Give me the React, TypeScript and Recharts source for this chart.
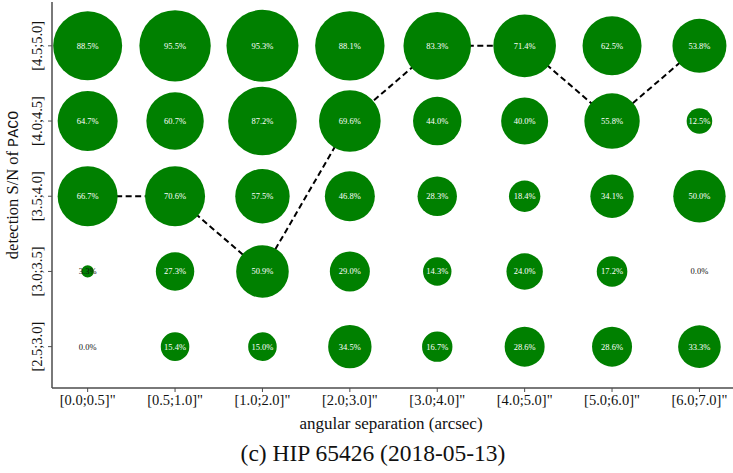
import React from 'react';
import { ScatterChart, Scatter, XAxis, YAxis, ZAxis, LabelList, Label } from 'recharts';

const xCategories = ['[0.0;0.5]"', '[0.5;1.0]"', '[1.0;2.0]"', '[2.0;3.0]"', '[3.0;4.0]"', '[4.0;5.0]"', '[5.0;6.0]"', '[6.0;7.0]"'];
const yCategories = ['[2.5;3.0]', '[3.0;3.5]', '[3.5;4.0]', '[4.0;4.5]', '[4.5;5.0]'];

// detection rate (%) per S/N row
const rate25 = [0.0, 15.4, 15.0, 34.5, 16.7, 28.6, 28.6, 33.3];
const rate30 = [3.3, 27.3, 50.9, 29.0, 14.3, 24.0, 17.2, 0.0];
const rate35 = [66.7, 70.6, 57.5, 46.8, 28.3, 18.4, 34.1, 50.0];
const rate40 = [64.7, 60.7, 87.2, 69.6, 44.0, 40.0, 55.8, 12.5];
const rate45 = [88.5, 95.5, 95.3, 88.1, 83.3, 71.4, 62.5, 53.8];

// bubble weight (area) per S/N row
const weight25 = [0, 204, 204, 471, 231, 400, 400, 454];
const weight30 = [38, 369, 692, 400, 202, 331, 234, 0];
const weight35 = [900, 900, 740, 625, 388, 246, 471, 686];
const weight40 = [900, 824, 1176, 949, 586, 552, 767, 164];
const weight45 = [1190, 1274, 1296, 1204, 1142, 980, 870, 729];

// best S/N row index per separation bin
const bestRow = [2, 2, 1, 3, 4, 4, 3, 4];

const rates = [rate25, rate30, rate35, rate40, rate45];
const weights = [weight25, weight30, weight35, weight40, weight45];

const bubbles = rates.flatMap((row, i) =>
  row.map((r, j) => ({ x: j, y: i, z: weights[i][j], rate: r }))
);
const path = bestRow.map((row, j) => ({ x: j, y: row }));

const FONT = '"Liberation Serif", "Times New Roman", serif';
const AXIS = '#4d4d4d';

const XTick = (props: any) => {
  const { x, y, payload } = props;
  return (
    <text x={x} y={y + 11} textAnchor="middle" fontFamily={FONT} fontSize={14.5} fill="#111">
      {xCategories[payload.value]}
    </text>
  );
};

const YTick = (props: any) => {
  const { y, payload } = props;
  return (
    <text
      x={0}
      y={0}
      transform={`translate(42, ${y}) rotate(-90)`}
      textAnchor="middle"
      fontFamily={FONT}
      fontSize={14.5}
      fill="#111"
    >
      {yCategories[payload.value]}
    </text>
  );
};

const BubbleLabel = (props: any) => {
  const { x, y, width, height, value } = props;
  const cx = x + width / 2;
  const cy = y + height / 2;
  return (
    <text
      x={cx}
      y={cy}
      dy={3}
      textAnchor="middle"
      fontFamily={FONT}
      fontSize={8.5}
      fill={width > 20 ? '#ffffff' : '#111111'}
    >
      {`${Number(value).toFixed(1)}%`}
    </text>
  );
};

const Titles = () => (
  <g>
    <text x={391} y={429} textAnchor="middle" fontFamily={FONT} fontSize={17} fill="#111">
      angular separation (arcsec)
    </text>
    <text x={373} y={461} textAnchor="middle" fontFamily={FONT} fontSize={23.5} fill="#111">
      (c) HIP 65426 (2018-05-13)
    </text>
  </g>
);

const YTitle = () => (
  <text
    x={0}
    y={0}
    transform="translate(18, 185) rotate(-90)"
    textAnchor="middle"
    fontFamily={FONT}
    fontSize={16.5}
    fill="#111"
  >
    detection S/N of <tspan fontFamily='"Liberation Mono", "DejaVu Sans Mono", monospace' fontSize={15}>PACO</tspan>
  </text>
);

export default function App() {
  return (
    <div style={{ position: 'absolute', left: 0, top: 0 }}>
      <ScatterChart width={733} height={473} margin={{ top: 2, right: 0, left: 0, bottom: 0 }}>
        <XAxis
          xAxisId="top"
          orientation="top"
          type="number"
          dataKey="x"
          domain={[-0.408, 7.384]}
          height={0}
          tick={false}
          tickLine={false}
          axisLine={{ stroke: '#777', strokeWidth: 1.5 }}
          allowDataOverflow
        />
        <XAxis
          type="number"
          dataKey="x"
          domain={[-0.408, 7.384]}
          ticks={[0, 1, 2, 3, 4, 5, 6, 7]}
          interval={0}
          height={85}
          tick={<XTick />}
          tickLine={{ stroke: AXIS, strokeWidth: 1 }}
          tickSize={4}
          axisLine={{ stroke: AXIS, strokeWidth: 1.5 }}
          allowDataOverflow
        >
          <Label content={<Titles />} />
        </XAxis>
        <YAxis
          type="number"
          dataKey="y"
          domain={[-0.55, 4.583]}
          ticks={[0, 1, 2, 3, 4]}
          interval={0}
          width={52}
          tick={<YTick />}
          tickLine={{ stroke: AXIS, strokeWidth: 1 }}
          tickSize={4}
          axisLine={{ stroke: AXIS, strokeWidth: 1.5 }}
          allowDataOverflow
        >
          <Label content={<YTitle />} />
        </YAxis>
        <ZAxis type="number" dataKey="z" domain={[0, 1296]} range={[0, Math.PI * 1296]} />
        <Scatter
          data={path}
          line={{ stroke: '#000', strokeWidth: 2, strokeDasharray: '6 3.5' }}
          shape={() => <g />}
          isAnimationActive={false}
        />
        <Scatter data={bubbles} fill="#008000" isAnimationActive={false}>
          <LabelList dataKey="rate" content={<BubbleLabel />} />
        </Scatter>
      </ScatterChart>
    </div>
  );
}
